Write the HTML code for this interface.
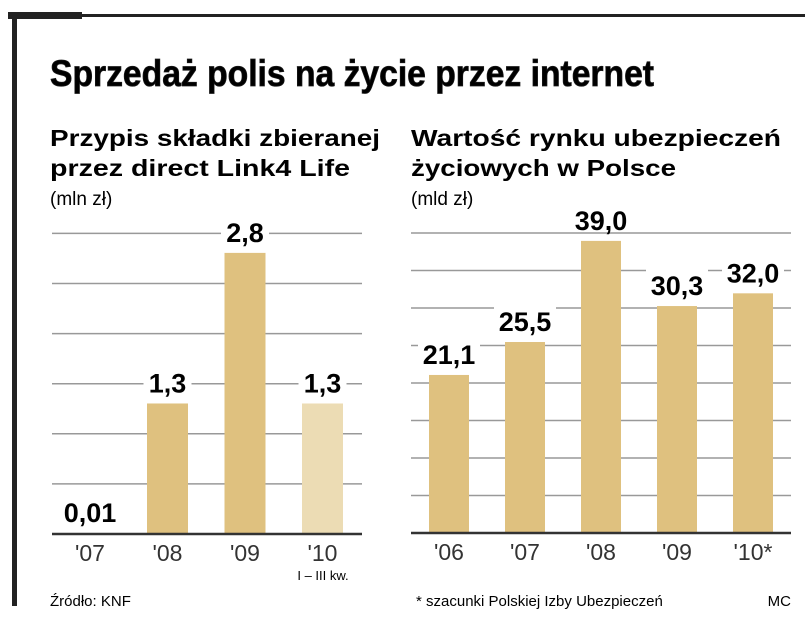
<!DOCTYPE html>
<html><head><meta charset="utf-8"><style>
body{margin:0;background:#fff;width:805px;height:617px;overflow:hidden;font-family:"Liberation Sans",sans-serif;color:#1a1a1a}
svg{position:absolute;left:0;top:0}
</style></head><body>
<svg width="805" height="617">
<rect x="8" y="12" width="74" height="7" fill="#222"/>
<rect x="8" y="14" width="797" height="3" fill="#222"/>
<rect x="12" y="12" width="5" height="594" fill="#222"/>
<text x="50" y="86" font-family="Liberation Sans Narrow, Liberation Sans, sans-serif" font-weight="bold" font-size="37" stroke="#1a1a1a" stroke-width="0.8" textLength="604" lengthAdjust="spacingAndGlyphs">Sprzedaż polis na życie przez internet</text>
<g font-weight="bold" font-size="23">
<text x="50" y="146" textLength="330" lengthAdjust="spacingAndGlyphs">Przypis składki zbieranej</text>
<text x="50" y="176" textLength="300" lengthAdjust="spacingAndGlyphs">przez direct Link4 Life</text>
<text x="411" y="146" textLength="370" lengthAdjust="spacingAndGlyphs">Wartość rynku ubezpieczeń</text>
<text x="411" y="176" textLength="265" lengthAdjust="spacingAndGlyphs">życiowych w Polsce</text>
</g>
<text x="50" y="205" font-size="19">(mln zł)</text>
<text x="411" y="205" font-size="19">(mld zł)</text>
<g id="left"></g><g id="right"></g>
<text x="50" y="606" font-size="15">Źródło: KNF</text>
<text x="416" y="606" font-size="15">* szacunki Polskiej Izby Ubezpieczeń</text>
<text x="791" y="606" font-size="15" text-anchor="end">MC</text>
</svg>
<script>
const leftCats=["'07","'08","'09","'10"];
const leftVals=[0.01,1.3,2.8,1.3];
const leftLabels=["0,01","1,3","2,8","1,3"];
const rightCats=["'06","'07","'08","'09","'10*"];
const rightVals=[21.1,25.5,39.0,30.3,32.0];
const rightLabels=["21,1","25,5","39,0","30,3","32,0"];
const NS="http://www.w3.org/2000/svg";
function mk(p,t,a){const e=document.createElementNS(NS,t);for(const k in a)e.setAttribute(k,a[k]);p.appendChild(e);return e;}
function draw(g,cats,vals,labels,o){
  const y=v=>o.base-v*o.ppu;
  for(let i=1;i<=o.nGrid;i++){const gy=o.base-i*o.gs;
    const l=mk(g,'line',{x1:o.x0,x2:o.x1,y1:gy,y2:gy,stroke:'#999','stroke-width':1.5});
    
    }
  cats.forEach((c,i)=>{const cx=o.c0+i*o.step;const top=y(vals[i]);
    const r=mk(g,'rect',{x:cx-o.bw/2,y:top,width:o.bw,height:o.base-top,fill:(o.light&&i===cats.length-1)?'#ecdcb4':'#dfc17f'});
    
    
    const tw=labels[i].length*14;
    mk(g,'rect',{x:cx-tw/2-3,y:top-38,width:tw+6,height:28,fill:'#fff'});
    const t=mk(g,'text',{x:cx,y:top-11,'text-anchor':'middle','font-weight':'bold','font-size':27});
    t.textContent=labels[i];
    
    
    const a=mk(g,'text',{x:cx,y:o.base+27,'text-anchor':'middle','font-size':23,fill:'#333'});
    a.textContent=c;
    
    
  });
  const b=mk(g,'line',{x1:o.x0,x2:o.x1,y1:o.base,y2:o.base,stroke:'#333','stroke-width':2.5});
  
  
}
draw(document.getElementById('left'),leftCats,leftVals,leftLabels,{base:534,ppu:100.4,gs:50.1,nGrid:6,x0:52,x1:362,c0:90,step:77.5,bw:41,light:true});
draw(document.getElementById('right'),rightCats,rightVals,rightLabels,{base:533,ppu:7.49,gs:37.5,nGrid:8,x0:411,x1:791,c0:449,step:76,bw:40});
const q=document.createElementNS(NS,'text');
q.setAttribute('x',323);q.setAttribute('y',580);q.setAttribute('text-anchor','middle');q.setAttribute('font-size',13);
q.textContent='I – III kw.';


document.getElementById('left').appendChild(q);
</script>
</body></html>
